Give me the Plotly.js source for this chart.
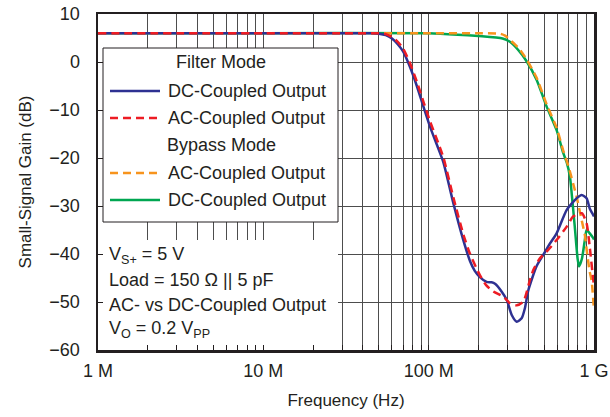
<!DOCTYPE html>
<html>
<head>
<meta charset="utf-8">
<script src="https://cdn.plot.ly/plotly-3.0.1.min.js"></script>
<style>html,body{margin:0;padding:0;background:#fff;}#chart{width:610px;height:417px;}</style>
</head>
<body>
<div id="chart"></div>
<script>
// ---- Data (frequency in MHz, gain in dB) ----
const filterDcFreq = [1, 10, 30, 45, 50, 55, 60, 65, 70, 77, 85, 93, 102, 114, 123, 141, 162, 178, 190, 204, 224, 240, 252, 276, 297, 318, 341, 365, 382, 401, 450, 493, 542, 594, 684, 784, 843, 902, 942, 990, 1000];
const filterDcGain = [6.0, 6.0, 6.0, 6.0, 5.9, 5.6, 4.9, 3.7, 2.2, -1.0, -5.1, -9.3, -13.5, -17.9, -21.0, -29.4, -37.1, -41.5, -43.5, -44.8, -45.8, -45.9, -46.2, -47.8, -49.6, -52.7, -54.1, -53.4, -51.3, -47.5, -42.5, -40.2, -37.8, -35.7, -30.8, -28.4, -27.7, -28.4, -30.5, -31.9, -32.2];

const filterAcFreq = [1, 10, 30, 45, 50, 55, 60, 65, 70, 77, 85, 93, 102, 114, 123, 141, 162, 178, 204, 224, 246, 283, 311, 341, 374, 410, 430, 471, 517, 594, 684, 747, 843, 902, 942, 990, 1000];
const filterAcGain = [6.0, 6.0, 6.0, 6.0, 6.0, 5.8, 5.2, 4.2, 2.8, -0.2, -4.2, -8.3, -12.4, -16.8, -20.0, -28.2, -35.9, -40.0, -44.4, -46.6, -47.8, -48.9, -50.3, -50.7, -49.9, -45.4, -43.3, -40.9, -39.5, -37.1, -34.3, -32.2, -31.5, -33.6, -38.5, -45.4, -46.5];

const bypassAcFreq = [1, 10, 100, 200, 270, 290, 310, 348, 392, 450, 517, 594, 652, 700, 750, 784, 843, 880, 902, 940, 967, 1000];
const bypassAcGain = [6.0, 6.0, 6.0, 6.0, 5.9, 5.5, 4.6, 3.0, 0.5, -3.3, -8.8, -13.7, -18.5, -21.7, -25.5, -28.0, -33.0, -36.0, -39.0, -43.5, -45.5, -51.7];

const bypassDcFreq = [1, 10, 100, 150, 200, 280, 310, 348, 392, 450, 517, 594, 652, 684, 716, 733, 765, 796, 812, 845, 880, 902, 942, 990, 1000];
const bypassDcGain = [6.0, 6.0, 6.0, 5.7, 5.4, 4.9, 4.2, 2.5, 0.1, -3.75, -9.3, -14.2, -19.0, -20.9, -24.0, -27.4, -34.3, -41.0, -42.6, -41.0, -37.1, -35.0, -35.7, -36.7, -37.0];

const seriesNames = ["DC-Coupled Output", "AC-Coupled Output", "AC-Coupled Output", "DC-Coupled Output"];
const groupTitles = ["Filter Mode", "Bypass Mode"];
const xTickDecades = [1e6, 1e7, 1e8, 1e9];
const xTickLabels = ["1 M", "10 M", "100 M", "1 G"];
const yTickVals = [-60, -50, -40, -30, -20, -10, 0, 10];
const noteLines = ["V<sub>S+</sub> = 5 V", "Load = 150 Ω || 5 pF", "AC- vs DC-Coupled Output", "V<sub>O</sub> = 0.2 V<sub>PP</sub>"];

// ---- Styles ----
const BLUE = "#2e3192", RED = "#ed1c24", ORANGE = "#f7941d", GREEN = "#00a651", INK = "#231f20";
const FONT = "Liberation Sans, Arial, Helvetica, sans-serif";
const toHz = a => a.map(v => v * 1e6);

// minor tick positions (2..9 in each decade)
const xMinorVals = [];
for (let d = 0; d < 3; d++) {
  for (let m = 2; m <= 9; m++) xMinorVals.push(m * Math.pow(10, 6 + d));
}

const W = 610, H = 417, ML = 98, MR = 16, MT = 14, MB = 67;
const PW = W - ML - MR, PH = H - MT - MB;
const px = p => (p - ML) / PW;
const py = p => (H - MB - p) / PH;
// pixel -> data helpers for shapes drawn inside the subplot
const dx = p => Math.pow(10, 6 + 3 * (p - ML) / PW);
const dy = p => 10 - 70 * (p - MT) / PH;

function tr(f, g, name, color, dash) {
  return {
    x: toHz(f), y: g, name: name, type: "scatter", mode: "lines",
    line: {color: color, width: 2.5, dash: dash, shape: "spline", smoothing: 0.6},
    showlegend: false, hoverinfo: "skip"
  };
}

const data = [
  tr(bypassDcFreq, bypassDcGain, seriesNames[3], GREEN, "solid"),
  tr(bypassAcFreq, bypassAcGain, seriesNames[2], ORANGE, "8px,5px"),
  tr(filterDcFreq, filterDcGain, seriesNames[0], BLUE, "solid"),
  tr(filterAcFreq, filterAcGain, seriesNames[1], RED, "8px,5px")
];

const shapes = [
  {type: "rect", xref: "x", yref: "y", x0: dx(96), x1: dx(338), y0: dy(352), y1: dy(240),
   fillcolor: "#ffffff", line: {width: 0}, layer: "between"},
  {type: "rect", xref: "x", yref: "y", x0: dx(103), x1: dx(338), y0: dy(222), y1: dy(48),
   fillcolor: "#ffffff", line: {width: 1, color: INK}, layer: "between"}
];
const legendRows = [
  {y: 91, color: BLUE, dash: "solid", text: seriesNames[0]},
  {y: 118, color: RED, dash: "8px,5px", text: seriesNames[1]},
  {y: 173, color: ORANGE, dash: "8px,5px", text: seriesNames[2]},
  {y: 200, color: GREEN, dash: "solid", text: seriesNames[3]}
];
const annotations = [];
legendRows.forEach(r => {
  shapes.push({type: "line", xref: "paper", yref: "paper", x0: px(110), x1: px(160), y0: py(r.y), y1: py(r.y),
    line: {color: r.color, width: 2.5, dash: r.dash}, layer: "above"});
  annotations.push({xref: "paper", yref: "paper", x: px(166), y: py(r.y), xanchor: "left", yanchor: "middle",
    text: r.text, showarrow: false, font: {family: FONT, size: 18, color: INK}});
});
[[groupTitles[0], 62], [groupTitles[1], 145]].forEach(g => {
  annotations.push({xref: "paper", yref: "paper", x: px(221), y: py(g[1]), xanchor: "center", yanchor: "middle",
    text: g[0], showarrow: false, font: {family: FONT, size: 18, color: INK}});
});
[255, 280, 305, 329].forEach((yy, i) => {
  annotations.push({xref: "paper", yref: "paper", x: px(107), y: py(yy), xanchor: "left", yanchor: "middle",
    text: noteLines[i], showarrow: false, font: {family: FONT, size: 18, color: INK}});
});

const layout = {
  width: W, height: H,
  margin: {l: ML, r: MR, t: MT, b: MB, pad: 0},
  paper_bgcolor: "#ffffff", plot_bgcolor: "#ffffff",
  font: {family: FONT, size: 18, color: INK},
  showlegend: false,
  xaxis: {
    type: "log", range: [6, 9], tickmode: "array", tickvals: xTickDecades, ticktext: xTickLabels,
    ticks: "inside", ticklen: 5, tickcolor: INK, tickwidth: 1,
    showgrid: true, gridcolor: "#4d4d4d", gridwidth: 1,
    minor: {tickmode: "array", tickvals: xMinorVals, ticks: "inside", ticklen: 5, tickcolor: INK, tickwidth: 1,
            showgrid: true, gridcolor: "#4d4d4d", gridwidth: 1},
    showline: true, linecolor: INK, linewidth: 2.5, mirror: true,
    ticklabelstandoff: 3, tickfont: {family: FONT, size: 18, color: INK},
    title: {text: "Frequency (Hz)", font: {family: FONT, size: 17, color: INK}, standoff: 14},
    zeroline: false
  },
  yaxis: {
    range: [-60, 10], tickmode: "array", tickvals: yTickVals,
    ticks: "inside", ticklen: 5, tickcolor: INK, tickwidth: 1,
    showgrid: true, gridcolor: "#4d4d4d", gridwidth: 1,
    showline: true, linecolor: INK, linewidth: 2.5, mirror: true,
    ticklabelstandoff: 12, tickfont: {family: FONT, size: 18, color: INK},
    title: {text: "Small-Signal Gain (dB)", font: {family: FONT, size: 17, color: INK}, standoff: 14},
    zeroline: false
  },
  shapes: shapes,
  annotations: annotations
};

Plotly.newPlot("chart", data, layout, {staticPlot: true, displayModeBar: false});
</script>
</body>
</html>
